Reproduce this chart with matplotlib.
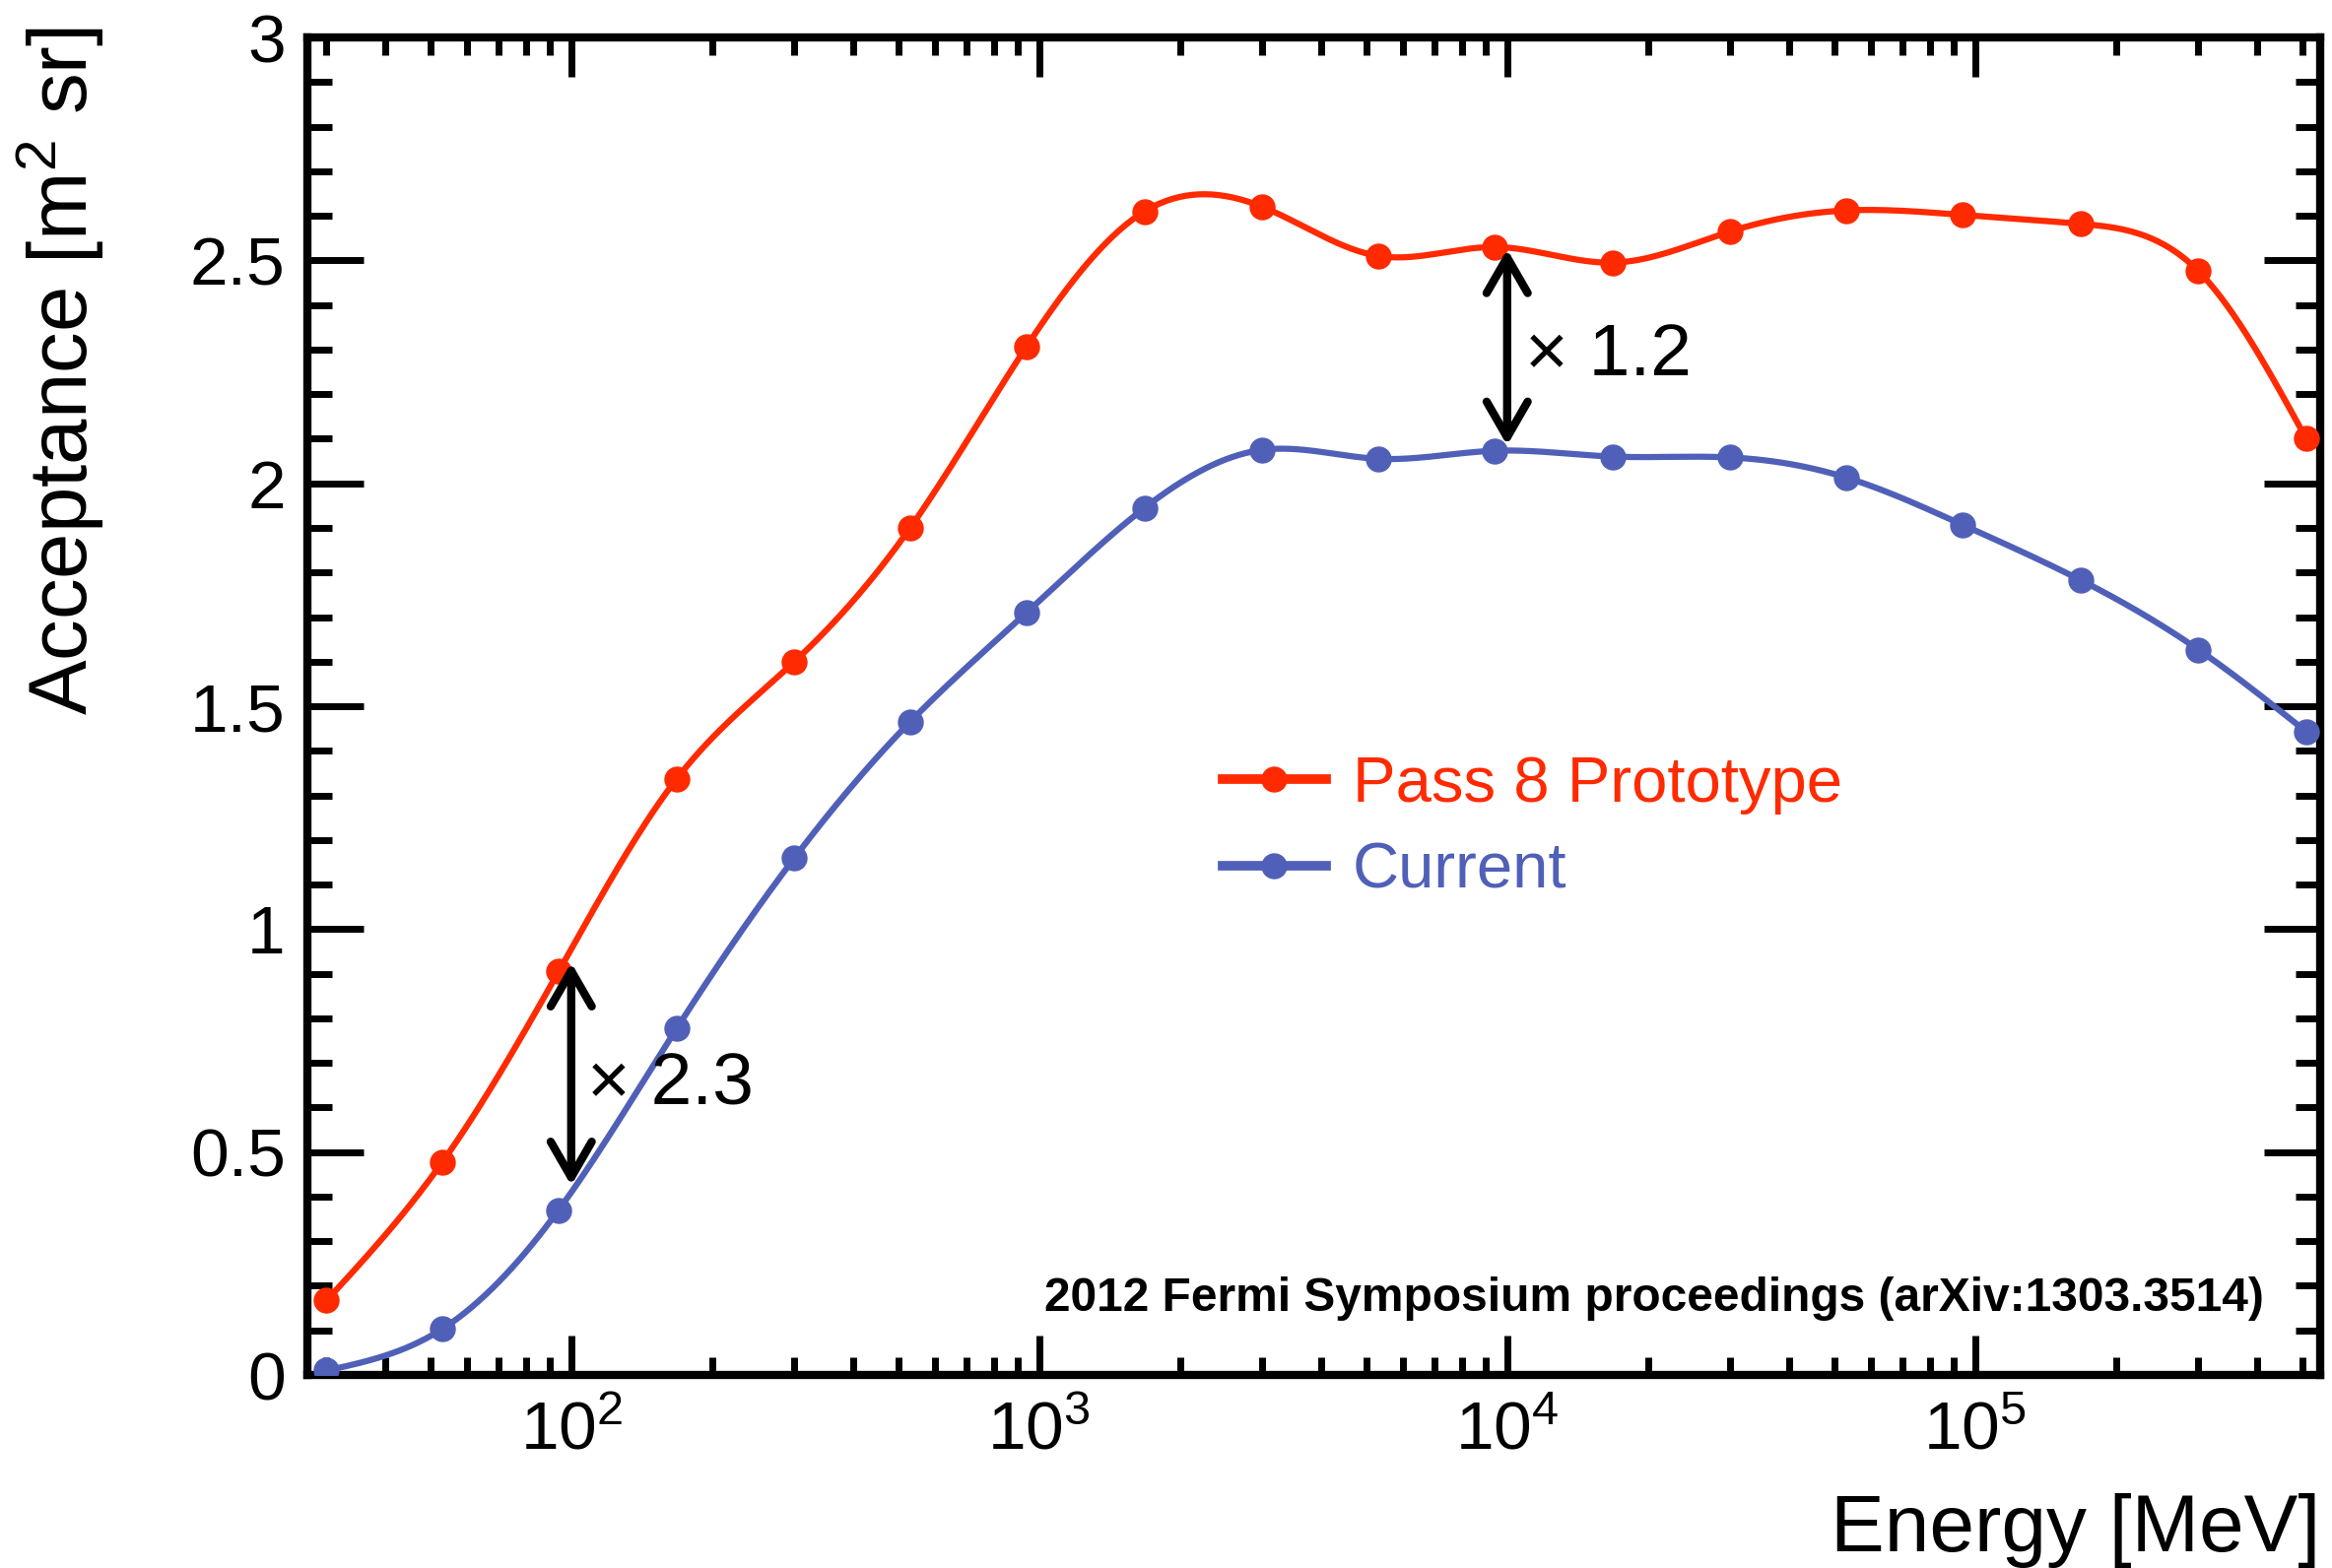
import numpy as np
import matplotlib
matplotlib.use("Agg")
import matplotlib.pyplot as plt
from matplotlib.ticker import LogLocator, MultipleLocator, FuncFormatter

plt.rcParams['font.family'] = ['Liberation Sans', 'DejaVu Sans']
plt.rcParams['mathtext.fontset'] = 'custom'
plt.rcParams['mathtext.rm'] = 'Liberation Sans'
plt.rcParams['mathtext.it'] = 'Liberation Sans:italic'

# Energy bins [MeV] and acceptance [m^2 sr]
energy = [30, 53, 94, 168, 300, 530, 940, 1680, 3000, 5300,
          9400, 16800, 30000, 53000, 94000, 168000, 300000, 510000]
pass8 = [0.167, 0.477, 0.905, 1.337, 1.600, 1.900, 2.307, 2.610, 2.620, 2.510,
         2.530, 2.495, 2.565, 2.612, 2.602, 2.582, 2.476, 2.100]
current = [0.010, 0.103, 0.370, 0.777, 1.160, 1.465, 1.710, 1.945, 2.075, 2.055,
           2.073, 2.060, 2.058, 2.013, 1.907, 1.783, 1.627, 1.443]

labels = ['Pass 8 Prototype', 'Current']
colors = ['#ff2a00', '#5060b8']


def natural_spline(x, y, xs):
    x = np.asarray(x, float)
    y = np.asarray(y, float)
    n = len(x)
    h = np.diff(x)
    A = np.zeros((n, n))
    rhs = np.zeros(n)
    A[0, 0] = A[-1, -1] = 1
    for i in range(1, n - 1):
        A[i, i - 1] = h[i - 1]
        A[i, i] = 2 * (h[i - 1] + h[i])
        A[i, i + 1] = h[i]
        rhs[i] = 3 * ((y[i + 1] - y[i]) / h[i] - (y[i] - y[i - 1]) / h[i - 1])
    c = np.linalg.solve(A, rhs)
    b = (y[1:] - y[:-1]) / h - h * (2 * c[:-1] + c[1:]) / 3
    d = (c[1:] - c[:-1]) / (3 * h)
    idx = np.clip(np.searchsorted(x, xs) - 1, 0, n - 2)
    dx = xs - x[idx]
    return y[idx] + b[idx] * dx + c[idx] * dx ** 2 + d[idx] * dx ** 3


fig = plt.figure(figsize=(23.67, 15.92), dpi=100)
ax = fig.add_axes([0.1318, 0.1231, 0.8631, 0.8530])

lx = np.log10(energy)
xs = np.linspace(lx[0], lx[-1], 600)
handles = []
for vals, col, lab in zip([pass8, current], colors, labels):
    ax.plot(10 ** xs, natural_spline(lx, vals, xs), color=col, lw=4.5, zorder=3)
    ax.plot(energy, vals, 'o', color=col, ms=18, zorder=4)
    h, = ax.plot([], [], '-o', color=col, lw=7, ms=18, label=lab)
    handles.append(h)

ax.set_xscale('log')
ax.set_xlim(27.3, 5.46e5)
ax.set_ylim(0, 3)

# ratio arrows
ax.annotate('', xy=(100, 0.925), xytext=(100, 0.425),
            arrowprops=dict(arrowstyle='<->,head_length=1.3,head_width=0.75',
                            mutation_scale=20, lw=6, color='black',
                            shrinkA=0, shrinkB=0), zorder=5)
ax.annotate('', xy=(1e4, 2.525), xytext=(1e4, 2.085),
            arrowprops=dict(arrowstyle='<->,head_length=1.3,head_width=0.75',
                            mutation_scale=20, lw=6, color='black',
                            shrinkA=0, shrinkB=0), zorder=5)
ax.text(108, 0.65, '× 2.3', fontsize=54, va='center', ha='left')
ax.text(1.09e4, 2.285, '× 1.2', fontsize=54, va='center', ha='left')

ax.text(0.972, 0.0574, '2012 Fermi Symposium proceedings (arXiv:1303.3514)',
        transform=ax.transAxes, fontsize=34.5, fontweight='bold',
        ha='right', va='center')

leg = ax.legend(handles=handles, loc='center left', bbox_to_anchor=(0.442, 0.4087),
                frameon=False, fontsize=47, handlelength=1.6, handletextpad=0.42,
                labelspacing=0.42, borderaxespad=0)
for t, col in zip(leg.get_texts(), colors):
    t.set_color(col)

# ticks
ax.yaxis.set_major_locator(MultipleLocator(0.5))
ax.yaxis.set_minor_locator(MultipleLocator(0.1))
ax.yaxis.set_major_formatter(FuncFormatter(lambda v, p: '%g' % v))
ax.xaxis.set_major_locator(LogLocator(base=10, numticks=20))
ax.xaxis.set_minor_locator(LogLocator(base=10, subs=np.arange(2, 10), numticks=20))

ax.tick_params(which='both', direction='in', top=True, right=True, width=5,
               labelsize=50, color='black')
ax.tick_params(axis='x', which='major', length=29, pad=18)
ax.tick_params(axis='x', which='minor', length=13)
ax.tick_params(axis='y', which='major', length=41, pad=16)
ax.tick_params(axis='y', which='minor', length=18)
for s in ax.spines.values():
    s.set_linewidth(6)

ax.set_xlabel('Energy [MeV]', fontsize=59)
ax.xaxis.set_label_coords(1.0, -0.088)
ax.xaxis.label.set_horizontalalignment('right')
ax.set_ylabel('Acceptance [m$^2$ sr]', fontsize=60)
ax.yaxis.set_label_coords(-0.10, 1.008)
ax.yaxis.label.set_horizontalalignment('right')

fig.savefig('out.png', dpi=100)
